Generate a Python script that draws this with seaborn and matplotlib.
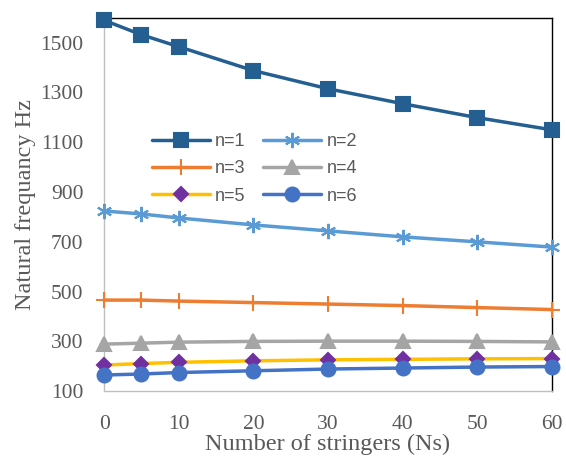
import numpy as np
import pandas as pd
import matplotlib
matplotlib.use("Agg")
import matplotlib.pyplot as plt
import seaborn as sns

# Data
stringers = [0, 5, 10, 20, 30, 40, 50, 60]
freq_n1 = [1590, 1532, 1484, 1388, 1315, 1255, 1199, 1150]
freq_n2 = [824, 812, 796, 768, 744, 720, 700, 679]
freq_n3 = [466, 466, 462, 456, 450, 444, 436, 428]
freq_n4 = [289, 293, 297, 300, 301, 301, 300, 298]
freq_n5 = [205, 211, 216, 222, 226, 228, 230, 231]
freq_n6 = [165, 169, 175, 182, 189, 193, 197, 199]

series = {
    "n=1": freq_n1, "n=2": freq_n2, "n=3": freq_n3,
    "n=4": freq_n4, "n=5": freq_n5, "n=6": freq_n6,
}

# line colour, marker, marker face colour, marker size
styles = {
    "n=1": ("#255E91", "s", "#255E91", 10),
    "n=2": ("#5B9BD5", (6, 2, 0), "#5B9BD5", 11),
    "n=3": ("#ED7D31", "+", "#ED7D31", 11),
    "n=4": ("#A5A5A5", "^", "#A5A5A5", 10),
    "n=5": ("#FFC000", "D", "#7030A0", 7.5),
    "n=6": ("#4472C4", "o", "#4472C4", 10),
}

rows = []
for name, vals in series.items():
    for x, y in zip(stringers, vals):
        rows.append({"Ns": x, "freq": y, "mode": name})
df = pd.DataFrame(rows)

sns.set_style("white")
fig = plt.figure(figsize=(5.66, 4.57), dpi=100)
ax = fig.add_axes([0.184, 0.144, 0.791, 0.817])

for name in series:
    color, marker, mface, msize = styles[name]
    sub = df[df["mode"] == name]
    sns.lineplot(data=sub, x="Ns", y="freq", ax=ax, color=color, linewidth=2.5,
                 marker=marker, markersize=msize, markerfacecolor=mface,
                 markeredgecolor=mface, markeredgewidth=1.5, label=name,
                 clip_on=False, zorder=3)

ax.set_xlim(0, 60)
ax.set_ylim(100, 1600)
ax.set_xticks([0, 10, 20, 30, 40, 50, 60])
ax.set_yticks([100, 300, 500, 700, 900, 1100, 1300, 1500])

for lab in ax.get_xticklabels() + ax.get_yticklabels():
    lab.set_fontfamily("Liberation Serif")
    lab.set_fontsize(15.5)
    lab.set_color("#595959")
ax.tick_params(axis="x", length=0, pad=17)
ax.tick_params(axis="y", length=0, pad=15)

ax.set_xlabel("Number of stringers (Ns)", fontfamily="Liberation Serif",
              fontsize=17.5, color="#595959", labelpad=0)
ax.set_ylabel("Natural frequancy Hz", fontfamily="Liberation Serif",
              fontsize=17.5, color="#595959", labelpad=3)

for side in ["left", "bottom"]:
    ax.spines[side].set_color("#BFBFBF")
    ax.spines[side].set_linewidth(1)
for side in ["top", "right"]:
    ax.spines[side].set_color("black")
    ax.spines[side].set_linewidth(1)

h, l = ax.get_legend_handles_labels()
lookup = dict(zip(l, h))
order = ["n=1", "n=3", "n=5", "n=2", "n=4", "n=6"]
leg = ax.legend([lookup[k] for k in order], order, ncol=2, frameon=False,
                loc="upper left", bbox_to_anchor=(0.07, 0.735),
                handlelength=3.2, columnspacing=1.0, labelspacing=0.57,
                handletextpad=0.3, prop={"family": "Liberation Sans", "size": 13})
for t in leg.get_texts():
    t.set_color("#595959")

fig.savefig("out.png", dpi=100)
